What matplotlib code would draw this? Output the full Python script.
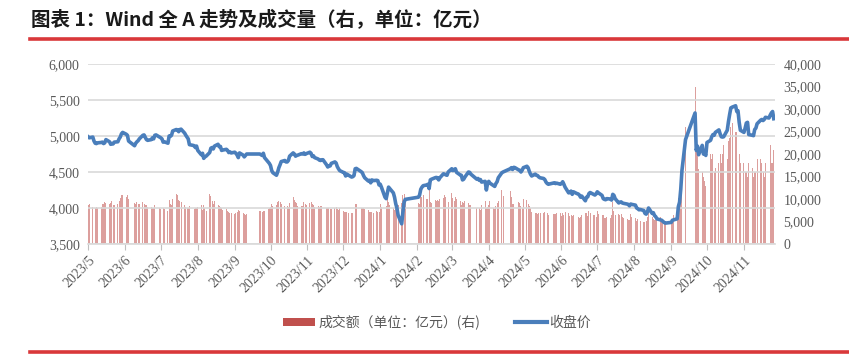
import matplotlib
matplotlib.use('Agg')
import matplotlib.pyplot as plt
from matplotlib.lines import Line2D
from matplotlib.patches import Patch
from matplotlib.ticker import FuncFormatter
import pandas as pd

# trading days (weekdays without exchange holidays)
holidays = ['2023-06-22', '2023-06-23', '2023-09-29', '2023-10-02', '2023-10-03',
            '2023-10-04', '2023-10-05', '2023-10-06', '2024-01-01', '2024-02-09',
            '2024-02-12', '2024-02-13', '2024-02-14', '2024-02-15', '2024-02-16',
            '2024-04-04', '2024-04-05', '2024-05-01', '2024-05-02', '2024-05-03',
            '2024-06-10', '2024-09-16', '2024-09-17', '2024-10-01', '2024-10-02',
            '2024-10-03', '2024-10-04', '2024-10-07']
days = pd.bdate_range('2023-05-18', '2024-12-13')
days = days[~days.isin(pd.to_datetime(holidays))]

# Wind 全A 收盘价
close = [
    4990, 4975, 4985, 4930, 4900, 4895, 4905, 4910, 4915, 4895,                      # 2023/5
    4905, 4950, 4920, 4885, 4895, 4890, 4915, 4920, 4960, 4985,
    5030, 5050, 5025, 5010, 4930, 4865, 4900, 4920, 4935, 4960,                      # 2023/6
    5010, 5015, 4980, 4950, 4940, 4950, 4975, 4960, 5010, 5015, 4985,
    4975, 4960, 4915, 4920, 4900, 5000, 4995, 5010, 5070, 5090,                      # 2023/7
    5085, 5060, 5090, 5095, 5040, 5010, 4985, 4960, 4880, 4870, 4865, 4840,
    4860, 4800, 4740, 4760, 4690, 4710, 4720, 4770, 4830, 4840, 4820,                # 2023/8
    4860, 4885, 4850, 4855, 4800, 4805, 4815, 4800, 4770, 4780,
    4765, 4775, 4760, 4735, 4700, 4765, 4735, 4710, 4730, 4750,                      # 2023/9
    4750, 4740, 4730, 4760, 4700, 4640, 4620, 4590, 4520,
    4490, 4455, 4500, 4560, 4600, 4645, 4660, 4640,                                  # 2023/10
    4640, 4660, 4720, 4765, 4750, 4720, 4730, 4735, 4755, 4750, 4765,
    4745, 4755, 4775, 4760, 4715, 4725, 4700, 4680, 4665, 4660, 4670,                # 2023/11
    4670, 4600, 4570, 4580, 4585, 4620, 4640, 4625, 4575, 4545, 4520,
    4495, 4490, 4445, 4470, 4460, 4430, 4435, 4450, 4545, 4550,                      # 2023/12
    4505, 4490, 4450, 4420, 4375, 4385, 4350, 4390, 4380, 4385, 4380,
    4320, 4330, 4290, 4150, 4130, 4210, 4290, 4270, 4210, 4150, 4060,                # 2024/1
    4000, 3900, 3780, 3940, 4080, 4120, 4150, 4180, 4260, 4290, 4310,
    4320, 4330, 4270, 4390,                                                          # 2024/2
    4400, 4420, 4425, 4420, 4390, 4420, 4475, 4470, 4460, 4455, 4500,
    4545, 4520, 4535, 4545, 4495, 4460, 4455, 4390, 4400, 4430,                      # 2024/3
    4500, 4495, 4470, 4400, 4410, 4385, 4395, 4360, 4370, 4250,
    4340, 4370, 4345, 4310, 4300, 4340, 4365, 4420, 4490, 4500,                      # 2024/4
    4545, 4560, 4535, 4565, 4560, 4530, 4525, 4500, 4525, 4560,
    4580, 4560, 4510, 4470, 4445, 4470, 4455, 4450, 4430, 4420,                      # 2024/5
    4410, 4395, 4360, 4340, 4330, 4345, 4350, 4340, 4345, 4330,
    4340, 4365, 4330, 4290, 4210, 4215, 4235, 4190, 4225,                            # 2024/6
    4200, 4195, 4180, 4150, 4165, 4100, 4150, 4155, 4200, 4215, 4190, 4180,
    4195, 4225, 4210, 4175, 4130, 4120, 4115, 4130, 4125, 4110, 4190,                # 2024/7
    4175, 4130, 4070, 4080, 4085, 4070, 4065, 4055, 4050, 4030, 4055,
    4050, 4040, 4000, 3990, 3975, 3980, 3965, 3925, 3915, 3945, 4000,                # 2024/8
    3925, 3935, 3895, 3880, 3850, 3835, 3830, 3815, 3800, 3790,
    3800, 3830, 3835, 3850, 4020, 4080, 4260, 4520, 4950,                            # 2024/9
    5320, 4800, 4860, 4740, 4870, 4750, 4760, 4730, 4910,
    4940, 4990, 5020, 5010, 5050, 5085, 5030, 4990, 4985,                            # 2024/10
    4990, 5080, 5200, 5300, 5390, 5400, 5420, 5340, 5350, 5190, 5080,
    5050, 5110, 5180, 5190, 5020, 5010, 5005, 5090, 5110, 5170,                      # 2024/11
    5220, 5230, 5215, 5230, 5260, 5250, 5290, 5320, 5340, 5240,                      # 2024/12
]

# 成交额（亿元）
volume = [
    8600, 8900, 8300, 8500, 8100, 8300, 8000, 8200, 8800, 8900,
    9400, 9200, 9000, 9100, 9500, 8700, 8600, 8800, 9600, 10300,
    10900, 11000, 10500, 10800, 10100, 9200, 8900, 9300, 9000, 8900,
    9400, 8800, 8700, 8600, 8200, 8300, 8000, 8100, 8600, 8300, 8000,
    7800, 7900, 7900, 7700, 7300, 9700, 8800, 8600, 10100, 11200,
    10900, 9800, 9500, 9400, 8600, 8300, 7900, 7900, 8500, 8100, 7700, 7900,
    8000, 8300, 8700, 7500, 8600, 8000, 7400, 11100, 10600, 9600, 9000,
    9600, 8700, 8500, 8200, 8100, 7600, 7700, 7400, 7100, 7000,
    6900, 6700, 7000, 7200, 7500, 7300, 6800, 6700, 6500, 6700,
    7400, 7300, 7100, 7300, 7400, 7700, 8100, 8300, 8900,
    8500, 8600, 9400, 9600, 9400, 8900, 8500, 8200,
    8400, 8300, 9100, 10400, 9800, 9300, 9200, 8500, 8500, 8400, 9400,
    8900, 8700, 9100, 9300, 8800, 8600, 8300, 8400, 8200, 8400, 8500,
    8600, 8000, 8100, 8000, 7700, 7800, 7900, 8300, 7800, 7600, 7900,
    7400, 7100, 7200, 7100, 6900, 7000, 6900, 7200, 8900, 9000,
    8000, 8100, 7900, 7800, 7500, 7200, 7200, 7100, 6900, 7300, 7200,
    7200, 9000, 8200, 8700, 8400, 9900, 9400, 8700, 8000, 7500, 7700,
    8500, 8600, 9100, 10800, 11200, 9700, 9200, 8800, 10600, 10400, 11000,
    9900, 10100, 12200, 9300,
    9100, 9800, 9600, 9800, 9500, 9900, 10200, 10900, 10500, 9900, 9400,
    11400, 10300, 9600, 10500, 10100, 9500, 8700, 9400, 9100, 9500,
    9200, 8600, 8700, 8100, 7900, 7900, 7600, 8600, 9600, 8100,
    8200, 8600, 9600, 8000, 7800, 8500, 9100, 9600, 12000, 10600,
    11700, 10400, 9000, 8800, 9000, 9400, 9200, 8400, 8000, 9900,
    9700, 9000, 8500, 8100, 7200, 7000, 6800, 6700, 6900, 7000,
    7000, 7200, 7000, 6900, 6400, 6700, 6600, 6600, 6900, 6800,
    6200, 6900, 6400, 7100, 7000, 6200, 6400, 6300, 6500,
    6400, 5900, 5800, 5900, 6400, 6800, 7000, 6200, 7400, 7000, 6400, 6400,
    6100, 7300, 6600, 6400, 6400, 5800, 5700, 5900, 5700, 6400, 9400,
    7400, 6500, 6600, 6500, 6600, 6000, 5800, 5500, 5300, 5400, 6700,
    6100, 5700, 5200, 5500, 5300, 5200, 4900, 5000, 5100, 5900, 7600,
    6100, 5500, 5400, 5400, 5600, 5900, 5400, 5100, 5000, 5100,
    5400, 5600, 6500, 5600, 10300, 11600, 11600, 14500, 26100,
    34800, 23700, 20900, 16700, 15900, 15000, 14000, 13000, 20200,
    20000, 19000, 20000, 16000, 17000, 18000, 20000, 18000, 20000,
    22000, 19000, 23000, 23500, 26000, 27000, 25000, 25000, 20000, 20000, 18000,
    18000, 16000, 16000, 15000, 18000, 17000, 15000, 16000, 16000, 19000,
    19000, 18000, 16000, 15000, 18000, 16000, 22000, 18000, 18000, 20800,
]

tick_dates = pd.date_range('2023-05-18', periods=19, freq=pd.DateOffset(months=1))
tick_labels = ['2023/5', '2023/6', '2023/7', '2023/8', '2023/9', '2023/10', '2023/11',
               '2023/12', '2024/1', '2024/2', '2024/3', '2024/4', '2024/5', '2024/6',
               '2024/7', '2024/8', '2024/9', '2024/10', '2024/11']

cjk = ['Noto Sans CJK SC', 'DejaVu Sans']
num_font = 'Liberation Serif'
gray = '#595959'
red = '#C0504D'
blue = '#4A7EBB'

fig = plt.figure(figsize=(8.49, 3.56), dpi=100)
ax = fig.add_axes([0.1037, 0.3146, 0.8091, 0.5056])
ax2 = ax.twinx()
ax.set_zorder(ax2.get_zorder() + 1)
ax.patch.set_visible(False)

ax2.bar(days, volume, width=0.8, color=red, alpha=0.55, linewidth=0)
ax.plot(days, close, color=blue, linewidth=2.6, solid_joinstyle='round')

ax.set_xlim(pd.Timestamp('2023-05-18'), pd.Timestamp('2024-12-14'))
ax.set_ylim(3500, 6000)
ax.set_yticks(range(3500, 6001, 500))
ax2.set_ylim(0, 40000)
ax2.set_yticks(range(0, 40001, 5000))
fmt = FuncFormatter(lambda v, p: '{:,.0f}'.format(v))
ax.yaxis.set_major_formatter(fmt)
ax2.yaxis.set_major_formatter(fmt)

ax.set_xticks(tick_dates)
ax.set_xticklabels(tick_labels, rotation=45, ha='right', rotation_mode='anchor')
ax.grid(axis='y', color='#D9D9D9', linewidth=1.2)
ax.set_axisbelow(True)

for a in (ax, ax2):
    for s in a.spines.values():
        s.set_visible(False)
    a.tick_params(axis='y', length=0, labelsize=10, labelcolor=gray, pad=6)
ax.spines['bottom'].set_visible(True)
ax.spines['bottom'].set_color('#D9D9D9')
ax.spines['bottom'].set_linewidth(1.2)
ax.tick_params(axis='x', length=4, color='#BFBFBF', labelsize=10, labelcolor=gray, pad=3)
for lbl in ax.get_xticklabels() + ax.get_yticklabels() + ax2.get_yticklabels():
    lbl.set_fontfamily(num_font)

handles = [Patch(facecolor=red, edgecolor='none'), Line2D([], [], color=blue, linewidth=3)]
labels = ['成交额（单位：亿元）(右)', '收盘价']
fig.legend(handles, labels, loc='center', bbox_to_anchor=(0.515, 0.095), ncol=2,
           frameon=False, prop={'family': cjk, 'size': 10}, labelcolor=gray,
           handlelength=2.3, handleheight=0.5, handletextpad=0.2, columnspacing=2.5)

fig.text(0.037, 0.944, '图表 1：Wind 全 A 走势及成交量（右，单位：亿元）', family=cjk,
         fontsize=14, fontweight='bold', color='#1A1A1A', va='center', ha='left')
fig.add_artist(Line2D([0.035, 1.0], [0.89, 0.89], transform=fig.transFigure,
                      color='#D9383A', linewidth=2.6))
fig.add_artist(Line2D([0.035, 1.0], [0.012, 0.012], transform=fig.transFigure,
                      color='#D9383A', linewidth=2.6))

fig.savefig('out.png', dpi=100)
